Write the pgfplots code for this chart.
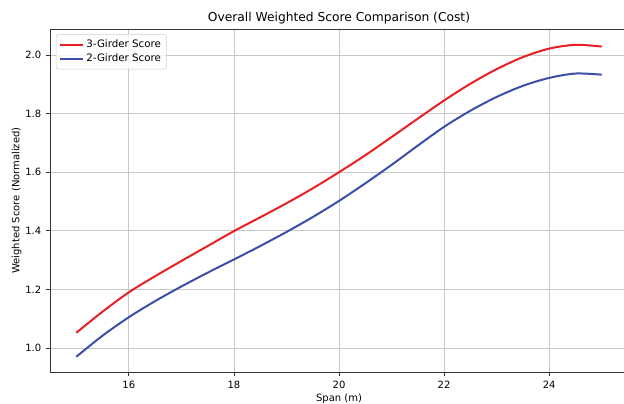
\documentclass[border=0pt]{standalone}
\usepackage{pgfplots}
\pgfplotsset{compat=1.18}
\usepackage{fontspec}
\setmainfont{DejaVu Sans}
\definecolor{cred}{RGB}{232,32,36}
\definecolor{cblue}{RGB}{60,78,168}
\definecolor{gridc}{RGB}{200,200,200}
\begin{document}
\begin{tikzpicture}
\begin{axis}[
  at={(0,0)}, anchor=south west,
  scale only axis,
  width=433.5pt, height=257.25pt,
  xmin=14.5, xmax=25.5,
  ymin=0.918, ymax=2.089,
  xtick={16,18,20,22,24},
  ytick={1.0,1.2,1.4,1.6,1.8,2.0},
  yticklabel style={/pgf/number format/fixed, /pgf/number format/fixed zerofill, /pgf/number format/precision=1},
  /pgf/number format/assume math mode=true,
  tick label style={font=\fontsize{7.5}{9}\selectfont},
  tick align=outside, tick pos=left,
  major tick length=3pt,
  every tick/.style={black!80, line width=0.6pt},
  axis line style={black!80, line width=0.7pt},
  grid=major,
  major grid style={gridc, line width=0.6pt},
  xlabel={Span (m)}, ylabel={Weighted Score (Normalized)},
  label style={font=\fontsize{7.5}{9}\selectfont},
  xlabel style={yshift=3pt},
  ylabel style={yshift=-4pt},
  title={Overall Weighted Score Comparison (Cost)},
  title style={font=\fontsize{9.2}{11}\selectfont, yshift=-6pt},
  legend style={font=\fontsize{7.7}{9}\selectfont, draw=black!20, rounded corners=2pt, fill=white, fill opacity=0.8, text opacity=1, inner sep=2.2pt, row sep=-1pt, at={(0.01,0.985)}, anchor=north west},
  legend cell align=left,
  legend image code/.code={\draw[#1, line width=1.5pt] (0cm,0cm) -- (0.6cm,0cm);},
]
\addplot[cred, line width=1.5pt, smooth, tension=0.5] coordinates {
(15,1.052) (15.5,1.124) (16,1.190) (16.5,1.245) (17,1.297) (17.5,1.348) (18,1.399) (18.5,1.446) (19,1.494) (19.5,1.545) (20,1.600) (20.5,1.658) (21,1.720) (21.5,1.783) (22,1.845) (22.5,1.902) (23,1.952) (23.5,1.993) (24,2.022) (24.5,2.035) (25,2.029)};
\addlegendentry{3-Girder Score}
\addplot[cblue, line width=1.5pt, smooth, tension=0.5] coordinates {
(15,0.970) (15.5,1.042) (16,1.105) (16.5,1.160) (17,1.210) (17.5,1.257) (18,1.302) (18.5,1.348) (19,1.396) (19.5,1.447) (20,1.502) (20.5,1.562) (21,1.625) (21.5,1.691) (22,1.755) (22.5,1.810) (23,1.857) (23.5,1.895) (24,1.922) (24.5,1.937) (25,1.933)};
\addlegendentry{2-Girder Score}
\node[anchor=south west, font=\fontsize{7.5}{9}\selectfont, inner sep=0pt] at (rel axis cs:0,1) [yshift=3pt] {1e6};
\end{axis}
\pgfresetboundingbox
\useasboundingbox (-37.5pt,-23.25pt) rectangle (430.5pt,279pt);
\end{tikzpicture}
\end{document}
